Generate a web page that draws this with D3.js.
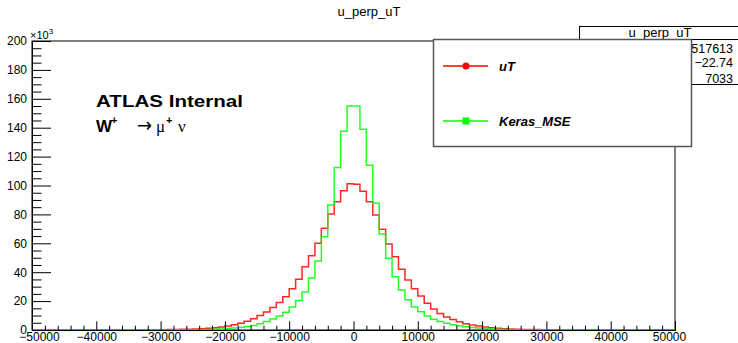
<!DOCTYPE html>
<html><head><meta charset="utf-8">
<script src="https://cdn.jsdelivr.net/npm/d3@7"></script>
<style>body{margin:0;background:#fff}svg{display:block;font-family:"Liberation Sans",Arial,sans-serif}</style>
</head><body><svg id="c" width="738" height="343"></svg>
<script>
// bin lower edges: -50000 .. 49000, width 1000 ; values in units of 10^3 entries
const binEdges = d3.range(-50000, 50001, 1000);
const uTNeg = [
 0.01,0.01,0.01,0.01,0.01,0.01,0.01,0.02,0.02,0.02,
 0.03,0.03,0.04,0.04,0.05,0.06,0.08,0.10,0.13,0.16,
 0.21,0.27,0.35,0.45,0.58,0.75,0.95,1.25,1.6,2.1,
 2.8,3.6,4.6,6.0,7.8,10.0,12.5,15.5,19.0,23.0,
 28.5,35.2,43.8,51.4,60.0,70.4,80.3,88.8,96.4,101.2
];
const uTPos = [
 100.8,96.0,88.8,79.6,69.7,59.5,50.7,42.0,34.6,28.5,
 23.5,18.5,14.5,11.5,9.0,7.2,5.7,4.4,3.5,2.8,
 2.1,1.6,1.25,0.95,0.72,0.55,0.42,0.33,0.26,0.2,
 0.16,0.13,0.1,0.08,0.06,0.05,0.04,0.04,0.03,0.03,
 0.02,0.02,0.02,0.01,0.01,0.01,0.01,0.01,0.01,0.01
];
const kerasNeg = [
 0,0,0,0,0,0,0,0,0.01,0.01,
 0.01,0.01,0.01,0.02,0.02,0.02,0.03,0.03,0.04,0.05,
 0.06,0.08,0.1,0.13,0.17,0.22,0.3,0.4,0.55,0.75,
 1.0,1.35,1.8,2.4,3.2,4.3,5.8,7.6,9.7,12.3,
 16.0,20.5,26.3,36.0,47.8,64.6,86.5,112.5,137.5,155.0
];
const kerasPos = [
 155.0,139.0,114.0,87.7,66.5,49.6,36.9,27.7,21.0,16.0,
 12.7,9.7,7.4,5.9,4.6,3.7,2.9,2.2,1.7,1.3,
 1.0,0.75,0.57,0.43,0.33,0.25,0.19,0.15,0.11,0.09,
 0.07,0.05,0.04,0.03,0.02,0.02,0.01,0.01,0.01,0.01,
 0,0,0,0,0,0,0,0,0,0
];
const yTicks = d3.range(0, 201, 20);
const xTicks = d3.range(-50000, 50001, 10000);
const legendLabels = ["uT", "Keras_MSE"];
const statsLabels = ["Entries", "Mean", "Std Dev"];
const statsValues = ["517613", "\u221222.74", "7033"];

const uTBins = uTNeg.concat(uTPos);
const kerasBins = kerasNeg.concat(kerasPos);

const svg = d3.select("#c");
const x = d3.scaleLinear().domain([-50000, 50000]).range([32, 675]);
const y = d3.scaleLinear().domain([0, 200]).range([330, 41]);

// title
svg.append("text").attr("x", 369).attr("y", 16).attr("text-anchor", "middle")
  .attr("font-size", 13).text("u_perp_uT");

// frame
svg.append("rect").attr("x", 32).attr("y", 41).attr("width", 643).attr("height", 289)
  .attr("fill", "none").attr("stroke", "#000").attr("stroke-width", 1);

// histograms
const line = d3.line().curve(d3.curveStepAfter).x(d => x(d[0])).y(d => y(d[1]));
function pts(vals) {
  const p = vals.map((v, i) => [binEdges[i], v]);
  p.push([binEdges[100], vals[99]]);
  return p;
}
svg.append("path").attr("d", line(pts(uTBins))).attr("fill", "none")
  .attr("stroke", "#ff0000").attr("stroke-width", 1.5).attr("stroke-opacity", 0.85);
svg.append("path").attr("d", line(pts(kerasBins))).attr("fill", "none")
  .attr("stroke", "#00ff00").attr("stroke-width", 1.5).attr("stroke-opacity", 0.85);

// axes
const fmt = d => d3.format("d")(d).replace("-", "\u2212");
const yAxis = svg.append("g").attr("transform", "translate(32,0)")
  .call(d3.axisLeft(y).tickValues(yTicks).tickSize(-19).tickPadding(5).tickFormat(d3.format("d")));
const yMinor = svg.append("g").attr("transform", "translate(32,0)")
  .call(d3.axisLeft(y).tickValues(d3.range(0, 201, 5).filter(v => v % 20)).tickSize(-9.5).tickFormat(""));
const xAxis = svg.append("g").attr("transform", "translate(0,330)")
  .call(d3.axisBottom(x).tickValues(xTicks).tickSize(-8.7).tickPadding(2).tickFormat(fmt));
const xMinor = svg.append("g").attr("transform", "translate(0,330)")
  .call(d3.axisBottom(x).tickValues(d3.range(-50000, 50001, 2000).filter(v => v % 10000)).tickSize(-4.3).tickFormat(""));
[yAxis, yMinor, xAxis, xMinor].forEach(g => {
  g.selectAll(".domain").attr("stroke", "#000");
  g.selectAll("line").attr("stroke", "#000");
  g.selectAll("text").attr("font-size", 12).attr("font-family", "Liberation Sans, Arial, sans-serif").attr("fill", "#000");
});
xAxis.selectAll("text").filter(d => d === -50000).attr("dx", 7);
xAxis.selectAll("text").filter(d => d === 50000).attr("dx", -6);

// x10^3
const mult = svg.append("text").attr("x", 30).attr("y", 39).attr("font-size", 11);
mult.append("tspan").text("\u00d710");
mult.append("tspan").attr("dy", -5).attr("font-size", 8).text("3");

// ATLAS labels
svg.append("text").attr("x", 96).attr("y", 107).attr("font-size", 17).attr("font-weight", "bold")
  .attr("textLength", 147).attr("lengthAdjust", "spacingAndGlyphs").text("ATLAS Internal");
svg.append("text").attr("x", 96).attr("y", 132).attr("font-size", 17).attr("font-weight", "bold").text("W");
svg.append("text").attr("x", 111).attr("y", 124).attr("font-size", 11).attr("font-weight", "bold").text("+");
svg.append("text").attr("x", 137).attr("y", 132).attr("font-size", 20).attr("font-family", "DejaVu Sans")
  .attr("textLength", 15).attr("lengthAdjust", "spacingAndGlyphs").text("\u2192");
svg.append("text").attr("x", 156).attr("y", 132).attr("font-size", 17).attr("font-family", "Liberation Serif").text("\u03bc");
svg.append("text").attr("x", 166).attr("y", 124).attr("font-size", 11).attr("font-weight", "bold").text("+");
svg.append("text").attr("x", 178).attr("y", 132).attr("font-size", 17).attr("font-family", "Liberation Serif").text("\u03bd");

// stats box
const sb = svg.append("g");
sb.append("rect").attr("x", 579.5).attr("y", 26.5).attr("width", 170).attr("height", 58)
  .attr("fill", "#fff").attr("stroke", "#000");
sb.append("line").attr("x1", 579.5).attr("x2", 750).attr("y1", 39.5).attr("y2", 39.5).attr("stroke", "#000");
sb.append("text").attr("x", 660).attr("y", 37).attr("text-anchor", "middle").attr("font-size", 13).text("u_perp_uT");
const rowsY = [53, 67, 83];
statsLabels.forEach((l, i) => {
  sb.append("text").attr("x", 585).attr("y", rowsY[i]).attr("font-size", 12.5).text(l);
  sb.append("text").attr("x", 733).attr("y", rowsY[i]).attr("text-anchor", "end").attr("font-size", 12.5).text(statsValues[i]);
});

// legend
const lg = svg.append("g");
lg.append("rect").attr("x", 433.5).attr("y", 39.5).attr("width", 258).attr("height", 107)
  .attr("fill", "#fff").attr("stroke", "#555").attr("stroke-width", 1.5);
const legColors = ["#ff0000", "#00ff00"];
const legY = [66, 121];
legendLabels.forEach((l, i) => {
  lg.append("line").attr("x1", 443).attr("x2", 488).attr("y1", legY[i]).attr("y2", legY[i])
    .attr("stroke", legColors[i]).attr("stroke-width", 1.3);
  if (i === 0) lg.append("circle").attr("cx", 466).attr("cy", legY[i]).attr("r", 3.5).attr("fill", legColors[i]);
  else lg.append("rect").attr("x", 462.5).attr("y", legY[i] - 3.5).attr("width", 7).attr("height", 7).attr("fill", legColors[i]);
  lg.append("text").attr("x", 499).attr("y", legY[i] + 4.5).attr("font-size", 13)
    .attr("font-weight", "bold").attr("font-style", "italic").text(l);
});
</script></body></html>
